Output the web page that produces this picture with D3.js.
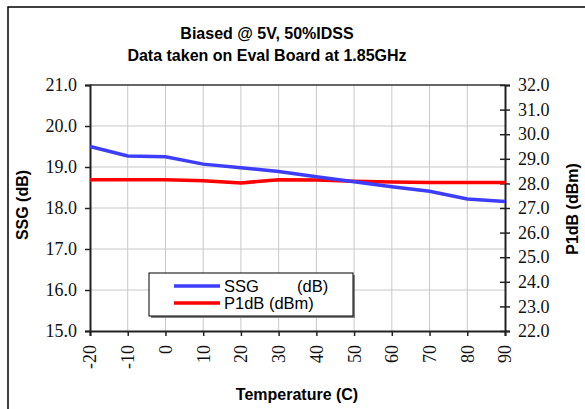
<!DOCTYPE html>
<html>
<head>
<meta charset="utf-8">
<script src="https://cdn.jsdelivr.net/npm/d3@7"></script>
<style>
html,body{margin:0;padding:0;background:#fff;}
svg{display:block;}
</style>
</head>
<body>
<svg id="chart" width="585" height="409"></svg>
<script>
// ---- data ----
const temperatures = [-20, -10, 0, 10, 20, 30, 40, 50, 60, 70, 80, 90];
const ssgValues    = [19.50, 19.27, 19.25, 19.07, 18.98, 18.89, 18.76, 18.64, 18.52, 18.41, 18.22, 18.16];
const p1dbValues   = [28.15, 28.15, 28.15, 28.11, 28.02, 28.15, 28.14, 28.09, 28.06, 28.04, 28.04, 28.04];
const xTicks  = [-20, -10, 0, 10, 20, 30, 40, 50, 60, 70, 80, 90];
const yLeftTicks  = [15, 16, 17, 18, 19, 20, 21];
const yRightTicks = [22, 23, 24, 25, 26, 27, 28, 29, 30, 31, 32];
const titleLines = ["Biased @ 5V, 50%IDSS", "Data taken on Eval Board at 1.85GHz"];
const seriesNames = ["SSG", "P1dB (dBm)"];

// ---- layout ----
const svg = d3.select("#chart");
const L = 90, R = 505, T = 85, B = 331;
const serif = "'Liberation Serif','Times New Roman',serif";
const sans = "'Liberation Sans',Arial,sans-serif";

const x = d3.scaleLinear().domain([-20, 90]).range([L, R]);
const yL = d3.scaleLinear().domain([15, 21]).range([B, T]);
const yR = d3.scaleLinear().domain([22, 32]).range([B, T]);

// outer frame
svg.append("rect").attr("x", 8).attr("y", 7).attr("width", 620).attr("height", 430)
  .attr("fill", "none").attr("stroke", "#000").attr("stroke-width", 1.5);

// title
svg.selectAll("text.title").data(titleLines).join("text")
  .attr("class", "title")
  .attr("x", 267).attr("y", (d, i) => 39 + i * 22)
  .attr("text-anchor", "middle")
  .attr("font-family", sans).attr("font-weight", "bold").attr("font-size", 16)
  .text(d => d);

// gridlines
const grid = svg.append("g");
grid.selectAll("line.v").data(xTicks.filter(t => t > -20 && t < 90)).join("line")
  .attr("x1", d => x(d)).attr("x2", d => x(d)).attr("y1", T).attr("y2", B)
  .attr("stroke", "#c8c8c8").attr("stroke-width", 1);
grid.selectAll("line.h").data(yLeftTicks.filter(t => t > 15 && t < 21)).join("line")
  .attr("x1", L).attr("x2", R).attr("y1", d => yL(d)).attr("y2", d => yL(d))
  .attr("stroke", "#c8c8c8").attr("stroke-width", 1);
// top border
svg.append("line").attr("x1", L).attr("x2", R).attr("y1", T).attr("y2", T)
  .attr("stroke", "#333").attr("stroke-width", 1.5);

// axes
const leftAxis = svg.append("g").attr("transform", `translate(${L},0)`)
  .call(d3.axisLeft(yL).tickValues(yLeftTicks).tickFormat(d3.format(".1f")).tickSize(5).tickPadding(8));
const rightAxis = svg.append("g").attr("transform", `translate(${R},0)`)
  .call(d3.axisRight(yR).tickValues(yRightTicks).tickFormat(d3.format(".1f")).tickSize(5).tickPadding(8));
rightAxis.selectAll(".tick line").attr("x1", -5);
const bottomAxis = svg.append("g").attr("transform", `translate(0,${B})`)
  .call(d3.axisBottom(x).tickValues(xTicks).tickFormat(d => String(d)).tickSize(5));
bottomAxis.selectAll(".tick text")
  .attr("transform", "rotate(-90)")
  .attr("text-anchor", "end")
  .attr("x", -14).attr("y", 0).attr("dy", "0.33em");

[leftAxis, rightAxis, bottomAxis].forEach(a => {
  a.select(".domain").attr("stroke", "#222").attr("stroke-width", 2);
  a.selectAll(".tick line").attr("stroke", "#222").attr("stroke-width", 1.5);
  a.selectAll(".tick text").attr("font-family", serif).attr("font-size", 18).attr("fill", "#111");
});

// lines
const lineL = d3.line().x(d => x(d[0])).y(d => yL(d[1]));
const lineR = d3.line().x(d => x(d[0])).y(d => yR(d[1]));
svg.append("path").datum(d3.zip(temperatures, p1dbValues))
  .attr("d", lineR).attr("fill", "none").attr("stroke", "#ff0000").attr("stroke-width", 3.5);
svg.append("path").datum(d3.zip(temperatures, ssgValues))
  .attr("d", lineL).attr("fill", "none").attr("stroke", "#3d3dff").attr("stroke-width", 3.5);

// axis titles
svg.append("text").attr("transform", "translate(28,205) rotate(-90)")
  .attr("text-anchor", "middle").attr("font-family", sans).attr("font-weight", "bold").attr("font-size", 16)
  .text("SSG (dB)");
svg.append("text").attr("transform", "translate(578,209) rotate(-90)")
  .attr("text-anchor", "middle").attr("font-family", sans).attr("font-weight", "bold").attr("font-size", 16)
  .text("P1dB (dBm)");
svg.append("text").attr("x", 297).attr("y", 400)
  .attr("text-anchor", "middle").attr("font-family", sans).attr("font-weight", "bold").attr("font-size", 16)
  .text("Temperature (C)");

// legend
const lg = svg.append("g");
lg.append("rect").attr("x", 151).attr("y", 275).attr("width", 204).attr("height", 43).attr("fill", "#808080");
lg.append("rect").attr("x", 149).attr("y", 273).attr("width", 204).attr("height", 43)
  .attr("fill", "#fff").attr("stroke", "#000").attr("stroke-width", 1);
const legendRows = [
  {name: seriesNames[0], unit: "(dB)", color: "#3d3dff", y: 286},
  {name: seriesNames[1], unit: null, color: "#ff0000", y: 303}
];
legendRows.forEach(r => {
  lg.append("line").attr("x1", 174).attr("x2", 220).attr("y1", r.y).attr("y2", r.y)
    .attr("stroke", r.color).attr("stroke-width", 3.5);
  const t = lg.append("text").attr("x", 224).attr("y", r.y + 6)
    .attr("font-family", sans).attr("font-size", 16.5).attr("fill", "#000");
  t.append("tspan").text(r.name);
  if (r.unit) t.append("tspan").attr("x", 297).text(r.unit);
});
</script>
</body>
</html>
